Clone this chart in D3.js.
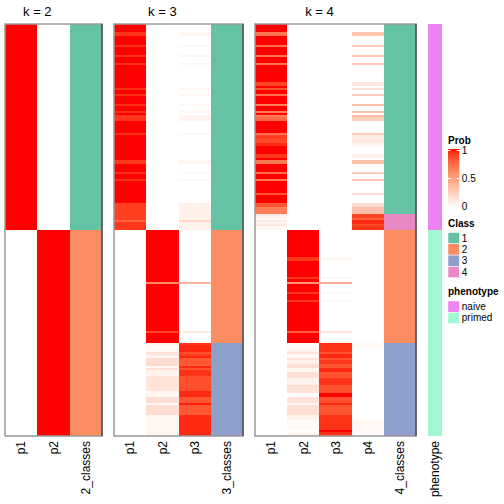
<!DOCTYPE html>
<html><head><meta charset="utf-8">
<script src="https://cdn.jsdelivr.net/npm/d3@7"></script>
<style>
html,body{margin:0;padding:0;background:#fff;}
svg{display:block;font-family:"Liberation Sans",Arial,Helvetica,sans-serif;}
</style></head><body>
<svg id="chart" width="504" height="504"></svg>
<script>
// ---------------- data (one value per sample, 200 samples, same row order in every panel) ----------------
const p1_k2 = [
1,1,1,1,1,1,1,1,1,1, 1,1,1,1,1,1,1,1,1,1, 1,1,1,1,1,1,1,1,1,1, 1,1,1,1,1,1,1,1,1,1,
1,1,1,1,1,1,1,1,1,1, 1,1,1,1,1,1,1,1,1,1, 1,1,1,1,1,1,1,1,1,1, 1,1,1,1,1,1,1,1,1,1,
1,1,1,1,1,1,1,1,1,1, 1,1,1,1,1,1,1,1,1,1,
0,0,0,0,0,0,0,0,0,0, 0,0,0,0,0,0,0,0,0,0, 0,0,0,0,0,0,0,0,0,0, 0,0,0,0,0,0,0,0,0,0,
0,0,0,0,0,0,0,0,0,0, 0,0,0,0,0,0,0,0,0,0, 0,0,0,0,0,0,0,0,0,0, 0,0,0,0,0,0,0,0,0,0,
0,0,0,0,0,0,0,0,0,0, 0,0,0,0,0,0,0,0,0,0];
const p2_k2 = [
0,0,0,0,0,0,0,0,0,0, 0,0,0,0,0,0,0,0,0,0, 0,0,0,0,0,0,0,0,0,0, 0,0,0,0,0,0,0,0,0,0,
0,0,0,0,0,0,0,0,0,0, 0,0,0,0,0,0,0,0,0,0, 0,0,0,0,0,0,0,0,0,0, 0,0,0,0,0,0,0,0,0,0,
0,0,0,0,0,0,0,0,0,0, 0,0,0,0,0,0,0,0,0,0,
1,1,1,1,1,1,1,1,1,1, 1,1,1,1,1,1,1,1,1,1, 1,1,1,1,1,1,1,1,1,1, 1,1,1,1,1,1,1,1,1,1,
1,1,1,1,1,1,1,1,1,1, 1,1,1,1,1,1,1,1,1,1, 1,1,1,1,1,1,1,1,1,1, 1,1,1,1,1,1,1,1,1,1,
1,1,1,1,1,1,1,1,1,1, 1,1,1,1,1,1,1,1,1,1];

const p1_k3 = [
1,1,1,1,.93,.93,1,1,1,1,
.94,1,1,1,1,.93,1,1,1,.94,
1,1,1,1,1,1,1,1,1,1,
1,.94,1,1,.94,1,1,1,1,.94,
1,1,.94,1,.92,.92,.92,1,1,1,
1,1,1,.94,1,1,1,1,1,1,
1,1,1,1,1,1,.92,.92,1,1,
1,1,.94,1,1,.94,1,1,1,1,
1,1,1,1,1,1,1,.9,.9,.9,
.9,.9,.9,.9,.9,.78,.92,.92,.92,.92,
0,0,0,0,0,0,0,0,0,0, 0,0,0,0,0,0,0,0,0,0, 0,0,0,0,0,0,0,0,0,0, 0,0,0,0,0,0,0,0,0,0,
0,0,0,0,0,0,0,0,0,0, 0,0,0,0,0,0,0,0,0,0, 0,0,0,0,0,0,0,0,0,0, 0,0,0,0,0,0,0,0,0,0,
0,0,0,0,0,0,0,0,0,0, 0,0,0,0,0,0,0,0,0,0];
const p2_k3 = [
0,0,0,0,0,0,0,0,0,0, 0,0,0,0,0,0,0,0,0,0, 0,0,0,0,0,0,0,0,0,0, 0,0,0,0,0,0,0,0,0,0,
0,0,0,0,0,0,0,0,0,0, 0,0,0,0,0,0,0,0,0,0, 0,0,0,0,0,0,0,0,0,0, 0,0,0,0,0,0,0,0,0,0,
0,0,0,0,0,0,0,0,0,0, 0,0,0,0,0,0,0,0,0,0,
1,1,1,1,1,1,1,1,1,1,
1,1,1,1,1,1,1,1,1,1,
1,1,1,1,1,.6,1,1,1,1,
1,1,1,1,1,1,1,1,1,1,
1,1,1,1,1,1,1,1,1,.88,
1,1,1,1,1,.08,.04,.04,.04,.15,
.1,.04,.18,.18,.18,.2,.05,.16,.07,.07,
.07,.15,.15,.15,.16,.16,.14,.14,.05,.05,
.05,.17,.17,.17,.03,.18,.18,.18,.18,.18,
.05,.05,.05,.05,.05,.05,.05,.05,.05,.05];
const p3_k3 = [
0,0,0,0,.05,.05,0,0,0,0,
.04,0,0,0,0,.05,0,0,0,.04,
0,0,0,0,0,0,0,0,0,0,
0,.04,0,0,.04,0,0,0,0,.04,
0,0,.04,0,.06,.06,.06,0,0,0,
0,0,0,.04,0,0,0,0,0,0,
0,0,0,0,0,0,.06,.06,0,0,
0,0,.04,0,0,.04,0,0,0,0,
0,0,0,0,0,0,0,.08,.08,.08,
.08,.08,.08,.08,.08,.22,.07,.07,.07,.07,
0,0,0,0,0,0,0,0,0,0,
0,0,0,0,0,0,0,0,0,0,
0,0,0,0,0,.4,0,0,0,0,
0,0,0,0,0,0,0,0,0,0,
0,0,0,0,0,0,0,0,0,.12,
0,0,0,0,0,.92,.96,.96,.96,.85,
.9,.96,.82,.82,.82,.8,.95,.84,.93,.93,
.93,.85,.85,.85,.84,.84,.86,.86,.95,.95,
.95,.83,.83,.83,.97,.82,.82,.82,.82,.82,
.95,.95,.95,.95,.95,.95,.95,.95,.95,.95];

const p1_k4 = [
1,1,1,1,.7,.7,1,1,1,1,
.72,1,1,1,1,.7,1,1,1,.72,
1,1,1,1,1,1,1,1,.88,.88,
1,.85,1,1,.72,1,1,1,1,.65,
1,1,.68,1,.65,.75,.75,1,1,1,
1,1,1,.72,.9,.9,.87,.87,.95,1,
1,1,1,.92,.92,1,.68,.68,1,1,
1,1,.72,1,1,.68,1,1,1,1,
1,1,.82,1,1,1,1,.82,.82,.66,
.66,.66,.1,.06,.03,.1,.05,.12,.04,.05,
0,0,0,0,0,0,0,0,0,0, 0,0,0,0,0,0,0,0,0,0, 0,0,0,0,0,0,0,0,0,0, 0,0,0,0,0,0,0,0,0,0,
0,0,0,0,0,0,0,0,0,0, 0,0,0,0,0,0,0,0,0,0, 0,0,0,0,0,0,0,0,0,0, 0,0,0,0,0,0,0,0,0,0,
0,0,0,0,0,0,0,0,0,0, 0,0,0,0,0,0,0,0,0,0];
const p2_k4 = [
0,0,0,0,0,0,0,0,0,0, 0,0,0,0,0,0,0,0,0,0, 0,0,0,0,0,0,0,0,0,0, 0,0,0,0,0,0,0,0,0,0,
0,0,0,0,0,0,0,0,0,0, 0,0,0,0,0,0,0,0,0,0, 0,0,0,0,0,0,0,0,0,0, 0,0,0,0,0,0,0,0,0,0,
0,0,0,0,0,0,0,0,0,0, 0,0,0,0,0,0,0,0,0,0,
1,1,1,1,1,1,1,1,1,1,
1,1,1,.92,.92,1,1,1,1,1,
1,1,1,.92,1,.55,1,1,1,1,
.92,1,1,1,.92,1,1,1,1,1,
1,1,1,1,1,1,1,1,1,.8,
1,1,1,1,1,.03,.03,.03,.07,.15,
.05,.05,.15,.08,.08,.18,.18,.05,.05,.17,
.17,.17,.07,.07,.07,.17,.15,.15,.15,0,
0,.15,.15,.15,.05,.17,.17,.17,.17,.17,
.07,.07,.03,.03,.03,.03,.03,0,.03,.07];
const p3_k4 = [
0,0,0,0,0,0,0,0,0,0, 0,0,0,0,0,0,0,0,0,0, 0,0,0,0,0,0,0,0,0,0, 0,0,0,0,0,0,0,0,0,0,
0,0,0,0,0,0,0,0,0,0, 0,0,0,0,0,0,0,0,0,0, 0,0,0,0,0,0,0,0,0,0, 0,0,0,0,0,0,0,0,0,0,
0,0,0,0,0,0,0,0,0,0, 0,0,0,0,0,0,0,0,0,0,
0,0,0,0,0,0,0,0,0,0,
0,0,0,.04,.04,0,0,0,0,0,
0,0,0,.04,0,.45,0,0,0,0,
.04,0,0,0,.04,0,0,0,0,0,
0,0,0,0,0,0,0,0,0,.16,
0,0,0,0,0,.93,.93,.93,.93,.85,
.95,.95,.85,.92,.92,.82,.82,.95,.95,.83,
.83,.83,.93,.93,.93,.83,.85,.85,.85,1,
1,.85,.85,.85,.95,.83,.83,.83,.83,.83,
.93,.93,.93,.93,.93,.93,.93,1,.93,.93];
const p4_k4 = [
0,0,0,0,.3,.3,0,0,0,0,
.28,0,0,0,0,.3,0,0,0,.28,
0,0,0,0,0,0,0,0,.12,.12,
0,.15,0,0,.28,0,0,0,0,.35,
0,0,.32,0,.35,.25,.25,0,0,0,
0,0,0,.28,.1,.1,.13,.13,.05,0,
0,0,0,.08,.08,0,.32,.32,0,0,
0,0,.28,0,0,.32,0,0,0,0,
0,0,.18,0,0,0,0,.18,.18,.34,
.34,.34,.88,.9,.78,.96,.95,.87,.92,.93,
0,0,0,0,0,0,0,0,0,0, 0,0,0,0,0,0,0,0,0,0, 0,0,0,0,0,0,0,0,0,0, 0,0,0,0,0,0,0,0,0,0,
0,0,0,0,0,0,0,0,0,0,
0,0,0,0,0,.04,.04,.04,0,0,
0,0,0,0,0,0,0,0,0,0, 0,0,0,0,0,0,0,0,0,0, 0,0,0,0,0,0,0,0,0,0,
0,0,.04,.04,.04,.04,.04,.04,.04,0];

const class_k2 = [
1,1,1,1,1,1,1,1,1,1,1,1,1,1,1,1,1,1,1,1, 1,1,1,1,1,1,1,1,1,1,1,1,1,1,1,1,1,1,1,1,
1,1,1,1,1,1,1,1,1,1,1,1,1,1,1,1,1,1,1,1, 1,1,1,1,1,1,1,1,1,1,1,1,1,1,1,1,1,1,1,1,
1,1,1,1,1,1,1,1,1,1,1,1,1,1,1,1,1,1,1,1,
2,2,2,2,2,2,2,2,2,2,2,2,2,2,2,2,2,2,2,2, 2,2,2,2,2,2,2,2,2,2,2,2,2,2,2,2,2,2,2,2,
2,2,2,2,2,2,2,2,2,2,2,2,2,2,2,2,2,2,2,2, 2,2,2,2,2,2,2,2,2,2,2,2,2,2,2,2,2,2,2,2,
2,2,2,2,2,2,2,2,2,2,2,2,2,2,2,2,2,2,2,2];
const class_k3 = [
1,1,1,1,1,1,1,1,1,1,1,1,1,1,1,1,1,1,1,1, 1,1,1,1,1,1,1,1,1,1,1,1,1,1,1,1,1,1,1,1,
1,1,1,1,1,1,1,1,1,1,1,1,1,1,1,1,1,1,1,1, 1,1,1,1,1,1,1,1,1,1,1,1,1,1,1,1,1,1,1,1,
1,1,1,1,1,1,1,1,1,1,1,1,1,1,1,1,1,1,1,1,
2,2,2,2,2,2,2,2,2,2,2,2,2,2,2,2,2,2,2,2, 2,2,2,2,2,2,2,2,2,2,2,2,2,2,2,2,2,2,2,2,
2,2,2,2,2,2,2,2,2,2,2,2,2,2,2,3,3,3,3,3,
3,3,3,3,3,3,3,3,3,3,3,3,3,3,3,3,3,3,3,3, 3,3,3,3,3,3,3,3,3,3,3,3,3,3,3,3,3,3,3,3];
const class_k4 = [
1,1,1,1,1,1,1,1,1,1,1,1,1,1,1,1,1,1,1,1, 1,1,1,1,1,1,1,1,1,1,1,1,1,1,1,1,1,1,1,1,
1,1,1,1,1,1,1,1,1,1,1,1,1,1,1,1,1,1,1,1, 1,1,1,1,1,1,1,1,1,1,1,1,1,1,1,1,1,1,1,1,
1,1,1,1,1,1,1,1,1,1,1,1,4,4,4,4,4,4,4,4,
2,2,2,2,2,2,2,2,2,2,2,2,2,2,2,2,2,2,2,2, 2,2,2,2,2,2,2,2,2,2,2,2,2,2,2,2,2,2,2,2,
2,2,2,2,2,2,2,2,2,2,2,2,2,2,2,3,3,3,3,3,
3,3,3,3,3,3,3,3,3,3,3,3,3,3,3,3,3,3,3,3, 3,3,3,3,3,3,3,3,3,3,3,3,3,3,3,3,3,3,3,3];
const phenotype = [
"naive","naive","naive","naive","naive","naive","naive","naive","naive","naive",
"naive","naive","naive","naive","naive","naive","naive","naive","naive","naive",
"naive","naive","naive","naive","naive","naive","naive","naive","naive","naive",
"naive","naive","naive","naive","naive","naive","naive","naive","naive","naive",
"naive","naive","naive","naive","naive","naive","naive","naive","naive","naive",
"naive","naive","naive","naive","naive","naive","naive","naive","naive","naive",
"naive","naive","naive","naive","naive","naive","naive","naive","naive","naive",
"naive","naive","naive","naive","naive","naive","naive","naive","naive","naive",
"naive","naive","naive","naive","naive","naive","naive","naive","naive","naive",
"naive","naive","naive","naive","naive","naive","naive","naive","naive","naive",
"primed","primed","primed","primed","primed","primed","primed","primed","primed","primed",
"primed","primed","primed","primed","primed","primed","primed","primed","primed","primed",
"primed","primed","primed","primed","primed","primed","primed","primed","primed","primed",
"primed","primed","primed","primed","primed","primed","primed","primed","primed","primed",
"primed","primed","primed","primed","primed","primed","primed","primed","primed","primed",
"primed","primed","primed","primed","primed","primed","primed","primed","primed","primed",
"primed","primed","primed","primed","primed","primed","primed","primed","primed","primed",
"primed","primed","primed","primed","primed","primed","primed","primed","primed","primed",
"primed","primed","primed","primed","primed","primed","primed","primed","primed","primed",
"primed","primed","primed","primed","primed","primed","primed","primed","primed","primed"];

const panelTitles = ["k = 2", "k = 3", "k = 4"];
const classLevels = [1, 2, 3, 4];
const classColors = ["#66C2A5", "#FC8D62", "#8DA0CB", "#E78AC3"];
const phenoLevels = ["naive", "primed"];
const phenoColors = ["#EE82EE", "#A2F7D3"];
const probTicks = [0, 0.5, 1];

// ---------------- layout ----------------
const svg = d3.select("#chart");
const nRows = phenotype.length;
const yTop = 24, yBottom = 436;
const y = d3.scaleBand().domain(d3.range(nRows)).range([yTop, yBottom]);
const probColor = d3.scaleLinear().domain([0, 1]).range(["#FFFFFF", "#FF0000"]).interpolate(d3.interpolateLab);
const classColor = d3.scaleOrdinal().domain(classLevels).range(classColors);
const phenoColor = d3.scaleOrdinal().domain(phenoLevels).range(phenoColors);

const panels = [
  { title: panelTitles[0], cols: ["p1", "p2"], probs: [p1_k2, p2_k2], clsName: "2_classes", cls: class_k2, x0: 5, x1: 102 },
  { title: panelTitles[1], cols: ["p1", "p2", "p3"], probs: [p1_k3, p2_k3, p3_k3], clsName: "3_classes", cls: class_k3, x0: 114, x1: 243 },
  { title: panelTitles[2], cols: ["p1", "p2", "p3", "p4"], probs: [p1_k4, p2_k4, p3_k4, p4_k4], clsName: "4_classes", cls: class_k4, x0: 255, x1: 416 }
];

function colLabel(g, cx, txt) {
  g.append("text")
    .attr("transform", `translate(${cx},441) rotate(-90)`)
    .attr("text-anchor", "end").attr("dy", "0.35em")
    .attr("font-size", 12).attr("fill", "#000").text(txt);
}

panels.forEach(p => {
  const names = [...p.cols, p.clsName];
  const x = d3.scaleBand().domain(names).range([p.x0, p.x1]);
  const g = svg.append("g");
  p.cols.forEach((c, ci) => {
    g.append("g").selectAll("rect").data(p.probs[ci]).join("rect")
      .attr("x", x(c)).attr("y", (d, i) => y(i))
      .attr("width", x.bandwidth()).attr("height", y.bandwidth())
      .attr("fill", d => probColor(d))
      .attr("shape-rendering", "crispEdges");
  });
  g.append("g").selectAll("rect").data(p.cls).join("rect")
    .attr("x", x(p.clsName)).attr("y", (d, i) => y(i))
    .attr("width", x.bandwidth()).attr("height", y.bandwidth())
    .attr("fill", d => classColor(d))
    .attr("shape-rendering", "crispEdges");
  // border
  g.append("rect").attr("x", p.x0).attr("y", yTop)
    .attr("width", p.x1 - p.x0).attr("height", yBottom - yTop)
    .attr("fill", "none").attr("stroke", "#999").attr("stroke-width", 1.5);
  g.append("line").attr("x1", p.x1).attr("x2", p.x1).attr("y1", yTop).attr("y2", yBottom)
    .attr("stroke", "#3a3a3a").attr("stroke-width", 1.2);
  // title centred over probability columns
  const tx = (x(p.cols[0]) + x(p.cols[p.cols.length - 1]) + x.bandwidth()) / 2;
  g.append("text").attr("x", tx).attr("y", 16).attr("text-anchor", "middle")
    .attr("font-size", 13).attr("fill", "#000").text(p.title);
  names.forEach(n => colLabel(g, x(n) + x.bandwidth() / 2, n));
});

// phenotype annotation column
const xp = d3.scaleBand().domain(["phenotype"]).range([428, 442]);
svg.append("g").selectAll("rect").data(phenotype).join("rect")
  .attr("x", xp("phenotype")).attr("y", (d, i) => y(i))
  .attr("width", xp.bandwidth()).attr("height", y.bandwidth())
  .attr("fill", d => phenoColor(d))
  .attr("shape-rendering", "crispEdges");
colLabel(svg, xp("phenotype") + xp.bandwidth() / 2, "phenotype");

// ---------------- legends ----------------
const lx = 448, lw = 11.3, lh = 11.3;
const lg = svg.append("g").attr("font-size", 10).attr("fill", "#000");

// Prob colour bar
lg.append("text").attr("x", lx).attr("y", 144).attr("font-weight", "bold").text("Prob");
const defs = svg.append("defs");
const grad = defs.append("linearGradient").attr("id", "probGrad")
  .attr("x1", 0).attr("y1", 1).attr("x2", 0).attr("y2", 0);
d3.range(0, 1.0001, 0.05).forEach(t => {
  grad.append("stop").attr("offset", t).attr("stop-color", probColor(t));
});
const ly = d3.scaleLinear().domain([0, 1]).range([206.5, 150.5]);
lg.append("rect").attr("x", lx).attr("y", 149).attr("width", lw).attr("height", 58.5)
  .attr("fill", "url(#probGrad)");
probTicks.forEach(t => {
  if (t > 0) {
    lg.append("line").attr("x1", lx).attr("x2", lx + 2.5).attr("y1", ly(t)).attr("y2", ly(t))
      .attr("stroke", "#fff").attr("stroke-width", 1);
    lg.append("line").attr("x1", lx + lw - 2.5).attr("x2", lx + lw).attr("y1", ly(t)).attr("y2", ly(t))
      .attr("stroke", "#fff").attr("stroke-width", 1);
  }
  lg.append("text").attr("x", lx + lw + 2.5).attr("y", ly(t)).attr("dy", "0.35em").text(t);
});

// Class legend
lg.append("text").attr("x", lx).attr("y", 227).attr("font-weight", "bold").text("Class");
classLevels.forEach((c, i) => {
  const yy = 232.5 + i * lh;
  lg.append("rect").attr("x", lx).attr("y", yy).attr("width", lw).attr("height", lh)
    .attr("fill", classColor(c)).attr("stroke", "#fff").attr("stroke-width", 0.5);
  lg.append("text").attr("x", lx + lw + 2.5).attr("y", yy + lh / 2).attr("dy", "0.35em").text(c);
});

// phenotype legend
lg.append("text").attr("x", lx).attr("y", 295).attr("font-weight", "bold").text("phenotype");
phenoLevels.forEach((c, i) => {
  const yy = 301 + i * lh;
  lg.append("rect").attr("x", lx).attr("y", yy).attr("width", lw).attr("height", lh)
    .attr("fill", phenoColor(c)).attr("stroke", "#fff").attr("stroke-width", 0.5);
  lg.append("text").attr("x", lx + lw + 2.5).attr("y", yy + lh / 2).attr("dy", "0.35em").text(c);
});
</script>
</body></html>
